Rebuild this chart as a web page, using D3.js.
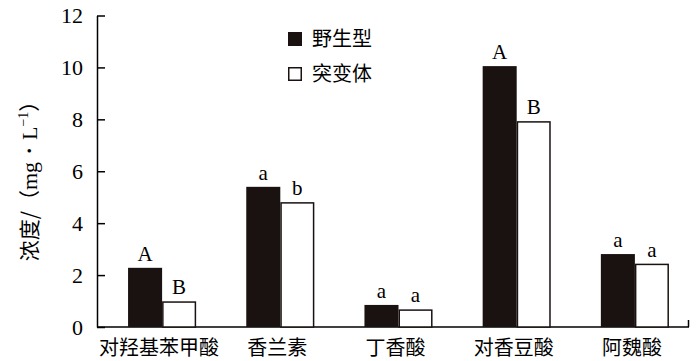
<!DOCTYPE html>
<html><head><meta charset="utf-8">
<script src="https://cdn.jsdelivr.net/npm/d3@7"></script>
<style>body{margin:0;background:#fff}</style>
</head><body>
<script>
const categories = ["对羟基苯甲酸","香兰素","丁香酸","对香豆酸","阿魏酸"];
const seriesNames = ["野生型","突变体"];
const wildType = [2.28, 5.40, 0.85, 10.05, 2.81];
const mutant = [0.99, 4.81, 0.68, 7.93, 2.44];
const wildLetters = ["A","a","a","A","a"];
const mutantLetters = ["B","b","a","B","a"];
const yTicks = [0,2,4,6,8,10,12];

const W = 700, H = 361;
const svg = d3.select("body").append("svg").attr("width", W).attr("height", H);
const cjk = "'Noto Sans CJK SC', sans-serif";
const serif = "'Liberation Serif', 'DejaVu Serif', serif";

const y = d3.scaleLinear().domain([0, 12]).range([327, 15.5]);
const x = d3.scaleBand().domain(categories).range([103, 694]).paddingInner(0.424).paddingOuter(0.212);
const xs = d3.scaleBand().domain(seriesNames).range([0, x.bandwidth()]);

// y axis
const yAxis = d3.axisRight(y).tickValues(yTicks).tickSize(8).tickSizeOuter(0).tickFormat(d3.format("d"));
const gy = svg.append("g").attr("transform", "translate(97,0)").call(yAxis);
gy.select(".domain").attr("stroke", "#000").attr("stroke-width", 1.5);
gy.selectAll(".tick line").attr("stroke", "#000").attr("stroke-width", 1.5);
gy.selectAll(".tick text").attr("x", -14).attr("text-anchor", "end")
  .attr("font-family", serif).attr("font-size", 22).attr("fill", "#000");

// x axis
const gx = svg.append("g").attr("transform", "translate(0,327)");
gx.append("line").attr("x1", 97).attr("x2", 689).attr("stroke", "#000").attr("stroke-width", 1.5);
gx.append("line").attr("x1", 688.5).attr("x2", 688.5).attr("y1", 0).attr("y2", -7).attr("stroke", "#000").attr("stroke-width", 1.5);
gx.selectAll("text.cat").data(categories).join("text").attr("class", "cat")
  .attr("x", d => x(d) + x.bandwidth() / 2 - 3).attr("y", 28)
  .attr("text-anchor", "middle").attr("font-family", cjk).attr("font-size", 20).attr("fill", "#000")
  .text(d => d);

// bars
const data = categories.map((c, i) => ({c, vals: [wildType[i], mutant[i]], letters: [wildLetters[i], mutantLetters[i]]}));
const groups = svg.append("g").selectAll("g").data(data).join("g")
  .attr("transform", d => `translate(${x(d.c)},0)`);
groups.selectAll("rect").data(d => d.vals.map((v, k) => ({v, k}))).join("rect")
  .attr("x", d => xs(seriesNames[d.k]) + (d.k === 1 ? 0.75 : 0))
  .attr("width", d => xs.bandwidth() - (d.k === 1 ? 1.5 : 0))
  .attr("y", d => y(d.v) + (d.k === 1 ? 0.75 : 0))
  .attr("height", d => y(0) - y(d.v) - (d.k === 1 ? 0.75 : 0))
  .attr("fill", d => d.k === 0 ? "#1a1210" : "#fff")
  .attr("stroke", d => d.k === 0 ? "none" : "#1a1210")
  .attr("stroke-width", 1.5);
groups.selectAll("text").data(d => d.vals.map((v, k) => ({v, k, l: d.letters[k]}))).join("text")
  .attr("x", d => xs(seriesNames[d.k]) + xs.bandwidth() / 2)
  .attr("y", d => y(d.v) - 7)
  .attr("text-anchor", "middle").attr("font-family", serif).attr("font-size", 21).attr("fill", "#000")
  .text(d => d.l);

// y title
svg.append("text").attr("transform", "translate(37,176) rotate(-90)")
  .attr("text-anchor", "middle").attr("font-family", cjk).attr("font-size", 21).attr("fill", "#000")
  .html('浓度/（<tspan font-family="Liberation Serif" font-size="22">mg・L</tspan><tspan font-family="Liberation Serif" font-size="14" dy="-9">−1</tspan><tspan dy="9">）</tspan>');

// legend
const leg = svg.append("g").selectAll("g").data(seriesNames).join("g")
  .attr("transform", (d, i) => `translate(288,${32 + i * 35})`);
leg.append("rect").attr("x", (d, i) => i ? 0.75 : 0).attr("y", (d, i) => i ? 0.75 : 0)
  .attr("width", (d, i) => i ? 12.5 : 14).attr("height", (d, i) => i ? 12.5 : 14)
  .attr("fill", (d, i) => i ? "#fff" : "#1a1210").attr("stroke", (d, i) => i ? "#1a1210" : "none").attr("stroke-width", 1.5);
leg.append("text").attr("x", 24).attr("y", 14).attr("font-family", cjk).attr("font-size", 20).attr("fill", "#000")
  .text(d => d);
</script>
</body></html>
